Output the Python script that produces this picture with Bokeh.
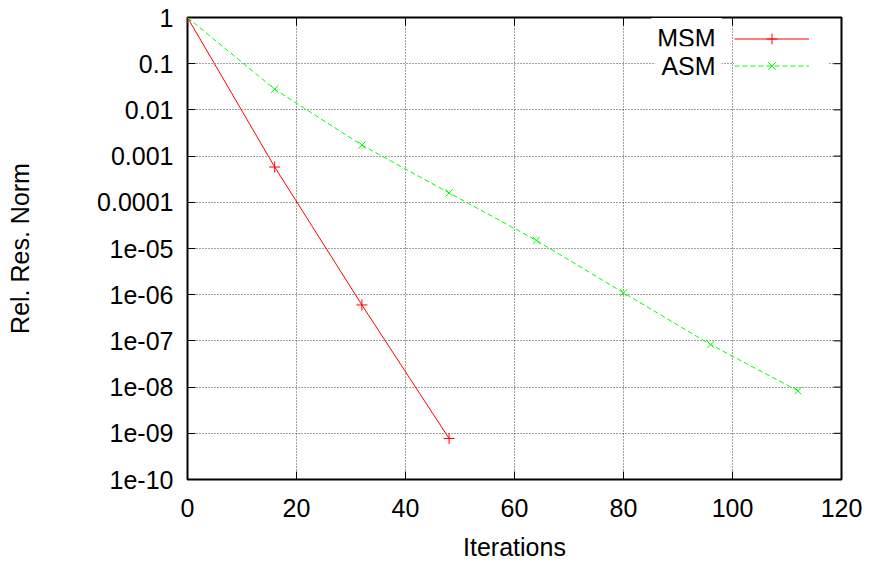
import math
from bokeh.plotting import figure
from bokeh.models import FixedTicker, Legend, LegendItem, Label
from bokeh.embed import file_html
from bokeh.resources import INLINE

# ---- data ----
msm_iter = [0, 16, 32, 48]
msm_res = [1.0, 5.8e-4, 6.0e-7, 7.7e-10]
asm_iter = [0, 16, 32, 48, 64, 80, 96, 112]
asm_res = [1.0, 2.8e-2, 1.73e-3, 1.6e-4, 1.5e-5, 1.1e-6, 8.3e-8, 8.3e-9]

x_ticks = [0, 20, 40, 60, 80, 100, 120]
y_ticks = [1, 0.1, 0.01, 0.001, 0.0001, 1e-05, 1e-06, 1e-07, 1e-08, 1e-09, 1e-10]
y_tick_labels = ["1", "0.1", "0.01", "0.001", "0.0001", "1e-05", "1e-06",
                 "1e-07", "1e-08", "1e-09", "1e-10"]
series_names = ["MSM", "ASM"]

FONT = "Liberation Sans"
FS = "25px"

p = figure(width=868, height=563, output_backend="svg", toolbar_location=None,
           x_range=(0, 120), y_range=(1e-10, 1), y_axis_type="log",
           min_border_left=187, min_border_top=17, min_border_bottom=82,
           min_border_right=27)

p.outline_line_color = "black"
p.outline_line_width = 2
p.background_fill_color = "white"
p.border_fill_color = "white"

overrides = {t: l for t, l in zip(y_ticks, y_tick_labels)}

xa = p.xaxis[0]
xa.ticker = FixedTicker(ticks=x_ticks)
xa.axis_label = "Iterations"
ya = p.yaxis[0]
ya.ticker = FixedTicker(ticks=y_ticks)
ya.major_label_overrides = overrides
ya.axis_label = "Rel. Res. Norm"

for ax in (xa, ya):
    ax.axis_line_color = None
    ax.major_tick_in = 8
    ax.major_tick_out = 0
    ax.minor_tick_line_color = None
    ax.major_tick_line_color = "black"
    ax.major_tick_line_width = 1
    ax.major_label_text_font = FONT
    ax.major_label_text_font_size = FS
    ax.major_label_text_color = "black"
    ax.axis_label_text_font = FONT
    ax.axis_label_text_font_size = FS
    ax.axis_label_text_font_style = "normal"
    ax.axis_label_text_color = "black"

xa.major_label_standoff = 19
xa.axis_label_standoff = 13
ya.major_label_standoff = 14
ya.axis_label_standoff = 60

p.xgrid.ticker = FixedTicker(ticks=x_ticks)
p.ygrid.ticker = FixedTicker(ticks=y_ticks)
for g in (p.xgrid[0], p.ygrid[0]):
    g.grid_line_color = "black"
    g.grid_line_alpha = 0.75
    g.grid_line_dash = "1 2"
    g.grid_line_width = 1

# mirrored inward ticks on top and right edges
p.ray(x=x_ticks, y=[y_ticks[0]] * len(x_ticks), length=8, length_units="screen",
      angle=-math.pi / 2, line_color="black", line_width=1)
p.ray(x=[x_ticks[-1]] * len(y_ticks), y=y_ticks, length=8, length_units="screen",
      angle=math.pi, line_color="black", line_width=1)

# ---- series ----
msm_line = p.line(msm_iter, msm_res, line_color="#ff0000", line_width=1)
msm_pts = p.scatter(msm_iter, msm_res, marker="cross", size=11,
                    line_color="#ff0000", line_width=1)
asm_line = p.line(asm_iter, asm_res, line_color="#00ff00", line_width=1,
                  line_dash="5 3")
asm_pts = p.scatter(asm_iter, asm_res, marker="x", size=10,
                    line_color="#00ff00", line_width=1)

legend = Legend(items=[LegendItem(label=series_names[0], renderers=[msm_line, msm_pts]),
                       LegendItem(label=series_names[1], renderers=[asm_line, asm_pts])],
                location=(547, 400), glyph_width=75, glyph_height=27,
                label_text_alpha=0, label_text_font_size="2px", label_standoff=0,
                spacing=0, padding=8, margin=0,
                border_line_color=None, background_fill_color="white",
                background_fill_alpha=1.0)
p.add_layout(legend)

for name, yv in zip(series_names, [0.36, 0.088]):
    p.add_layout(Label(x=98.0, y=yv, text=name, text_align="right",
                       text_baseline="middle", text_font=FONT, text_font_size=FS,
                       text_color="black", background_fill_color="white",
                       padding=6))

open("out.html", "w").write(file_html(p, INLINE))
